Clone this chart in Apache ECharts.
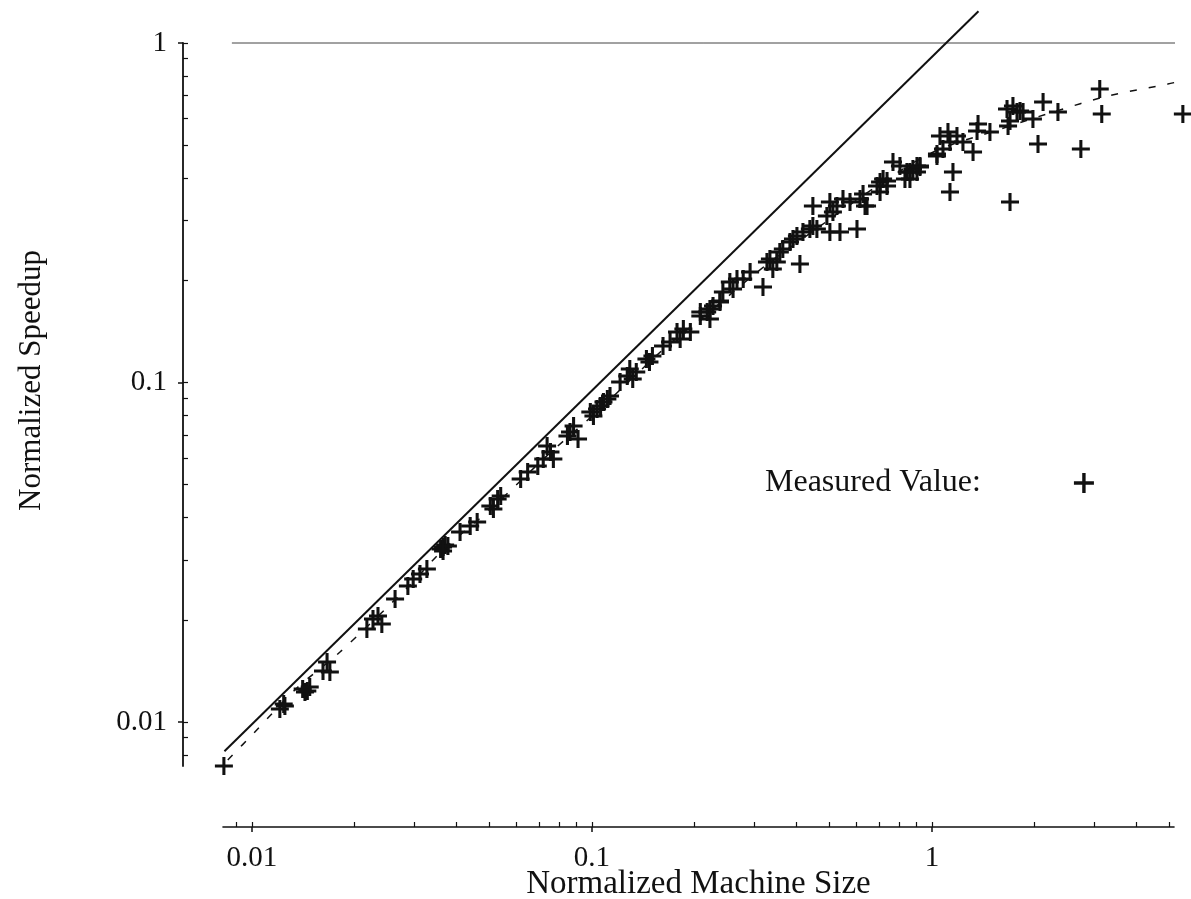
<!DOCTYPE html>
<html><head><meta charset="utf-8">
<script src="https://cdn.jsdelivr.net/npm/echarts@6/dist/echarts.min.js"></script>
<style>html,body{margin:0;padding:0;background:#fff}#c{width:1191px;height:899px}</style>
</head><body><div id="c"></div>
<script>
// axis ranges and ticks
const xRange = [0.00822, 5.15];
const yRange = [0.00742, 1];
const xMajorTicks = [0.01, 0.1, 1];
const yMajorTicks = [0.01, 0.1, 1];
const xAllTicks = [0.009, 0.01, 0.02, 0.03, 0.04, 0.05, 0.06, 0.07, 0.08, 0.09,
  0.1, 0.2, 0.3, 0.4, 0.5, 0.6, 0.7, 0.8, 0.9, 1, 2, 3, 4, 5];
const yAllTicks = [0.008, 0.009, 0.01, 0.02, 0.03, 0.04, 0.05, 0.06, 0.07, 0.08, 0.09,
  0.1, 0.2, 0.3, 0.4, 0.5, 0.6, 0.7, 0.8, 0.9, 1];

// measured values [normalized machine size, normalized speedup]
const measured = [
  [0.00827,0.00742],
  [0.01208,0.01092],[0.0125,0.01114],[0.0124,0.0113],
  [0.0141,0.01251],[0.01432,0.01226],[0.01455,0.01234],[0.01479,0.01268],
  [0.01663,0.01502],[0.01695,0.01404],[0.01618,0.01413],
  [0.02178,0.01879],[0.0227,0.02011],[0.0241,0.01944],[0.02348,0.02052],
  [0.02636,0.02303],
  [0.02875,0.02515],[0.0298,0.02637],[0.0312,0.02728],[0.0327,0.02822],
  [0.03588,0.03233],[0.03648,0.03277],[0.0370,0.03322],[0.0377,0.03299],[0.03648,0.0319],
  [0.04093,0.03628],[0.04384,0.03779],[0.04596,0.03882],
  [0.05025,0.04327],[0.0528,0.04536],[0.0513,0.0424],[0.0539,0.0463],
  [0.0617,0.05196],[0.0647,0.0545],[0.0693,0.05677],[0.0719,0.05953],[0.0755,0.06242],[0.077,0.05953],[0.0738,0.06501],
  [0.0862,0.07148],[0.0883,0.07445],[0.0847,0.06957],[0.091,0.06817],
  [0.0989,0.08186],[0.1035,0.08354],[0.1081,0.08761],[0.111,0.08942],[0.113,0.09125],[0.106,0.08526],[0.101,0.07966],
  [0.121,0.1003],[0.127,0.1045],[0.1318,0.1024],[0.135,0.1074],[0.1292,0.1096],
  [0.1446,0.1173],[0.1506,0.1197],[0.1476,0.1149],
  [0.1618,0.1281],[0.1697,0.1316],[0.1779,0.1408],[0.1857,0.1437],[0.1817,0.1343],[0.1947,0.1408],
  [0.2083,0.157],[0.2182,0.1613],[0.227,0.168],[0.238,0.1726],[0.2223,0.1538],
  [0.2083,0.1613],[0.2223,0.1646],[0.238,0.1738],[0.2427,0.1847],[0.2544,0.1977],[0.267,0.2018],[0.26,0.1885],[0.2785,0.2018],[0.2918,0.2116],
  [0.3184,0.1911],
  [0.3271,0.2264],[0.3337,0.231],[0.3497,0.2264],[0.3404,0.2159],[0.3569,0.2423],[0.3642,0.2473],
  [0.4089,0.2234],
  [0.3822,0.2593],[0.4007,0.2701],[0.3901,0.2647],[0.4174,0.2775],[0.4374,0.2832],[0.4464,0.2891],[0.4587,0.2832],
  [0.5009,0.2775],[0.5363,0.2775],[0.6018,0.2832],
  [0.4464,0.3311],[0.5009,0.3402],[0.5254,0.3311],[0.5474,0.3472],[0.574,0.3402],[0.6143,0.3472],[0.6442,0.3311],[0.4908,0.3093],[0.5113,0.3178],
  [0.6355,0.3311],[0.627,0.3591],
  [0.7036,0.3896],[0.7182,0.3977],[0.6893,0.3792],[0.7376,0.3792],[0.7036,0.364],[0.7376,0.3923],
  [0.7679,0.4462],[0.8441,0.4169],[0.8791,0.4255],[0.922,0.4343],[0.8614,0.3977],[0.9034,0.4169],
  [0.805,0.4343],[0.8328,0.3977],[0.8614,0.4169],[0.9034,0.4343],[0.922,0.4313],
  [1.0344,0.471],[1.0557,0.5322],
  [1.0344,0.4647],[1.0774,0.4873],[1.1296,0.511],[1.1844,0.5322],[1.2334,0.511],[1.1144,0.5469],
  [1.1527,0.4169],[1.1296,0.364],
  [1.3206,0.4775],[1.366,0.5774],[1.3569,0.5506],[1.4806,0.5469],
  [1.6963,0.3402],
  [1.6623,0.6392],[1.7304,0.6523],[1.8153,0.6305],[1.6963,0.5891],[1.674,0.5696],[1.7787,0.6262],[1.8528,0.6262],[1.9812,0.5972],
  [2.0504,0.5041],
  [2.122,0.6703],
  [2.3469,0.6262],
  [2.7408,0.4873],
  [3.1149,0.7321],[3.1575,0.6178],
  [5.4685,0.6178]
];

// dashed fitted curve
const fitCurve = [
  [0.00849,0.00773],[0.01014,0.00929],[0.01356,0.01259],[0.01815,0.01607],[0.02917,0.02535],
  [0.03648,0.03214],[0.0501,0.0422],[0.0738,0.0609],[0.1035,0.0821],[0.1618,0.125],
  [0.2223,0.1619],[0.327,0.2229],[0.4467,0.279],[0.703,0.384],[1.02,0.48],
  [1.585,0.557],[2.27,0.626],[3.29,0.698],[4.94,0.757],[5.55,0.778]
];
// solid ideal (linear) line endpoints
const idealLine = [[0.0083,0.0082],[1.37,1.24]];
// horizontal line at speedup 1
const limitLine = [[0.00873,1],[5.43,1]];

const FONT = 'Liberation Serif';
const plusPath = 'path://M0,8.3h20v3.4h-20z M8.3,0h3.4v20h-3.4z';
const fmt = v => String(+Number(v).toPrecision(3));

const chart = echarts.init(document.getElementById('c'), null, {renderer: 'canvas'});
chart.setOption({
  animation: false,
  backgroundColor: '#fff',
  grid: {left: 223, right: 17, top: 43, bottom: 133, containLabel: false, outerBoundsMode: 'none'},
  legend: {
    show: true, left: 760, top: 462, align: 'right',
    itemWidth: 20, itemHeight: 20, icon: plusPath,
    data: [{name: 'Measured Value:', icon: plusPath}],
    textStyle: {fontFamily: FONT, fontSize: 32, color: '#111', padding: [0, 88, 0, 0]}
  },
  xAxis: [{
    type: 'log', logBase: 10, min: xRange[0], max: xRange[1],
    position: 'bottom', offset: 61,
    name: 'Normalized Machine Size', nameLocation: 'middle', nameGap: 41, nameMoveOverlap: false,
    nameTextStyle: {fontFamily: FONT, fontSize: 33, color: '#111'},
    axisLine: {show: true, lineStyle: {color: '#111', width: 1.6}},
    axisTick: {show: true, length: 5, customValues: xMajorTicks, lineStyle: {color: '#111', width: 1.5}},
    axisLabel: {show: true, customValues: xMajorTicks, formatter: fmt, margin: 17,
      fontFamily: FONT, fontSize: 29, color: '#111'},
    splitLine: {show: false}, minorTick: {show: false}
  }, {
    type: 'log', logBase: 10, min: xRange[0], max: xRange[1],
    position: 'bottom', offset: 61,
    axisLine: {show: false},
    axisTick: {show: true, inside: true, length: 5, customValues: xAllTicks, lineStyle: {color: '#111', width: 1.2}},
    axisLabel: {show: false}, splitLine: {show: false}
  }],
  yAxis: [{
    type: 'log', logBase: 10, min: yRange[0], max: yRange[1],
    position: 'left', offset: 40,
    name: 'Normalized Speedup', nameLocation: 'middle', nameGap: 136, nameRotate: 90, nameMoveOverlap: false,
    nameTextStyle: {fontFamily: FONT, fontSize: 31, color: '#111', padding: [0, 0, 0, 48]},
    axisLine: {show: true, lineStyle: {color: '#111', width: 1.8}},
    axisTick: {show: true, length: 5, customValues: yMajorTicks, lineStyle: {color: '#111', width: 1.5}},
    axisLabel: {show: true, customValues: yMajorTicks, formatter: fmt, margin: 16,
      fontFamily: FONT, fontSize: 29, color: '#111'},
    splitLine: {show: false}, minorTick: {show: false}
  }, {
    type: 'log', logBase: 10, min: yRange[0], max: yRange[1],
    position: 'left', offset: 40,
    axisLine: {show: false},
    axisTick: {show: true, inside: true, length: 5, customValues: yAllTicks, lineStyle: {color: '#111', width: 1.2}},
    axisLabel: {show: false}, splitLine: {show: false}
  }],
  series: [
    {
      name: 'limit', type: 'line', data: limitLine, xAxisIndex: 0, yAxisIndex: 0,
      symbol: 'none', clip: false, silent: true,
      lineStyle: {color: '#444', width: 1}
    },
    {
      name: 'ideal', type: 'line', data: idealLine, xAxisIndex: 0, yAxisIndex: 0,
      symbol: 'none', clip: false, silent: true,
      lineStyle: {color: '#111', width: 2}
    },
    {
      name: 'fit', type: 'line', data: fitCurve, xAxisIndex: 0, yAxisIndex: 0,
      symbol: 'none', clip: false, silent: true, smooth: 0.3,
      lineStyle: {color: '#111', width: 1.5, type: [7, 12]}
    },
    {
      name: 'Measured Value:', type: 'scatter', data: measured, xAxisIndex: 0, yAxisIndex: 0,
      symbol: plusPath, symbolSize: 18, clip: false,
      itemStyle: {color: '#111', opacity: 1}
    }
  ]
});
</script>
</body></html>
